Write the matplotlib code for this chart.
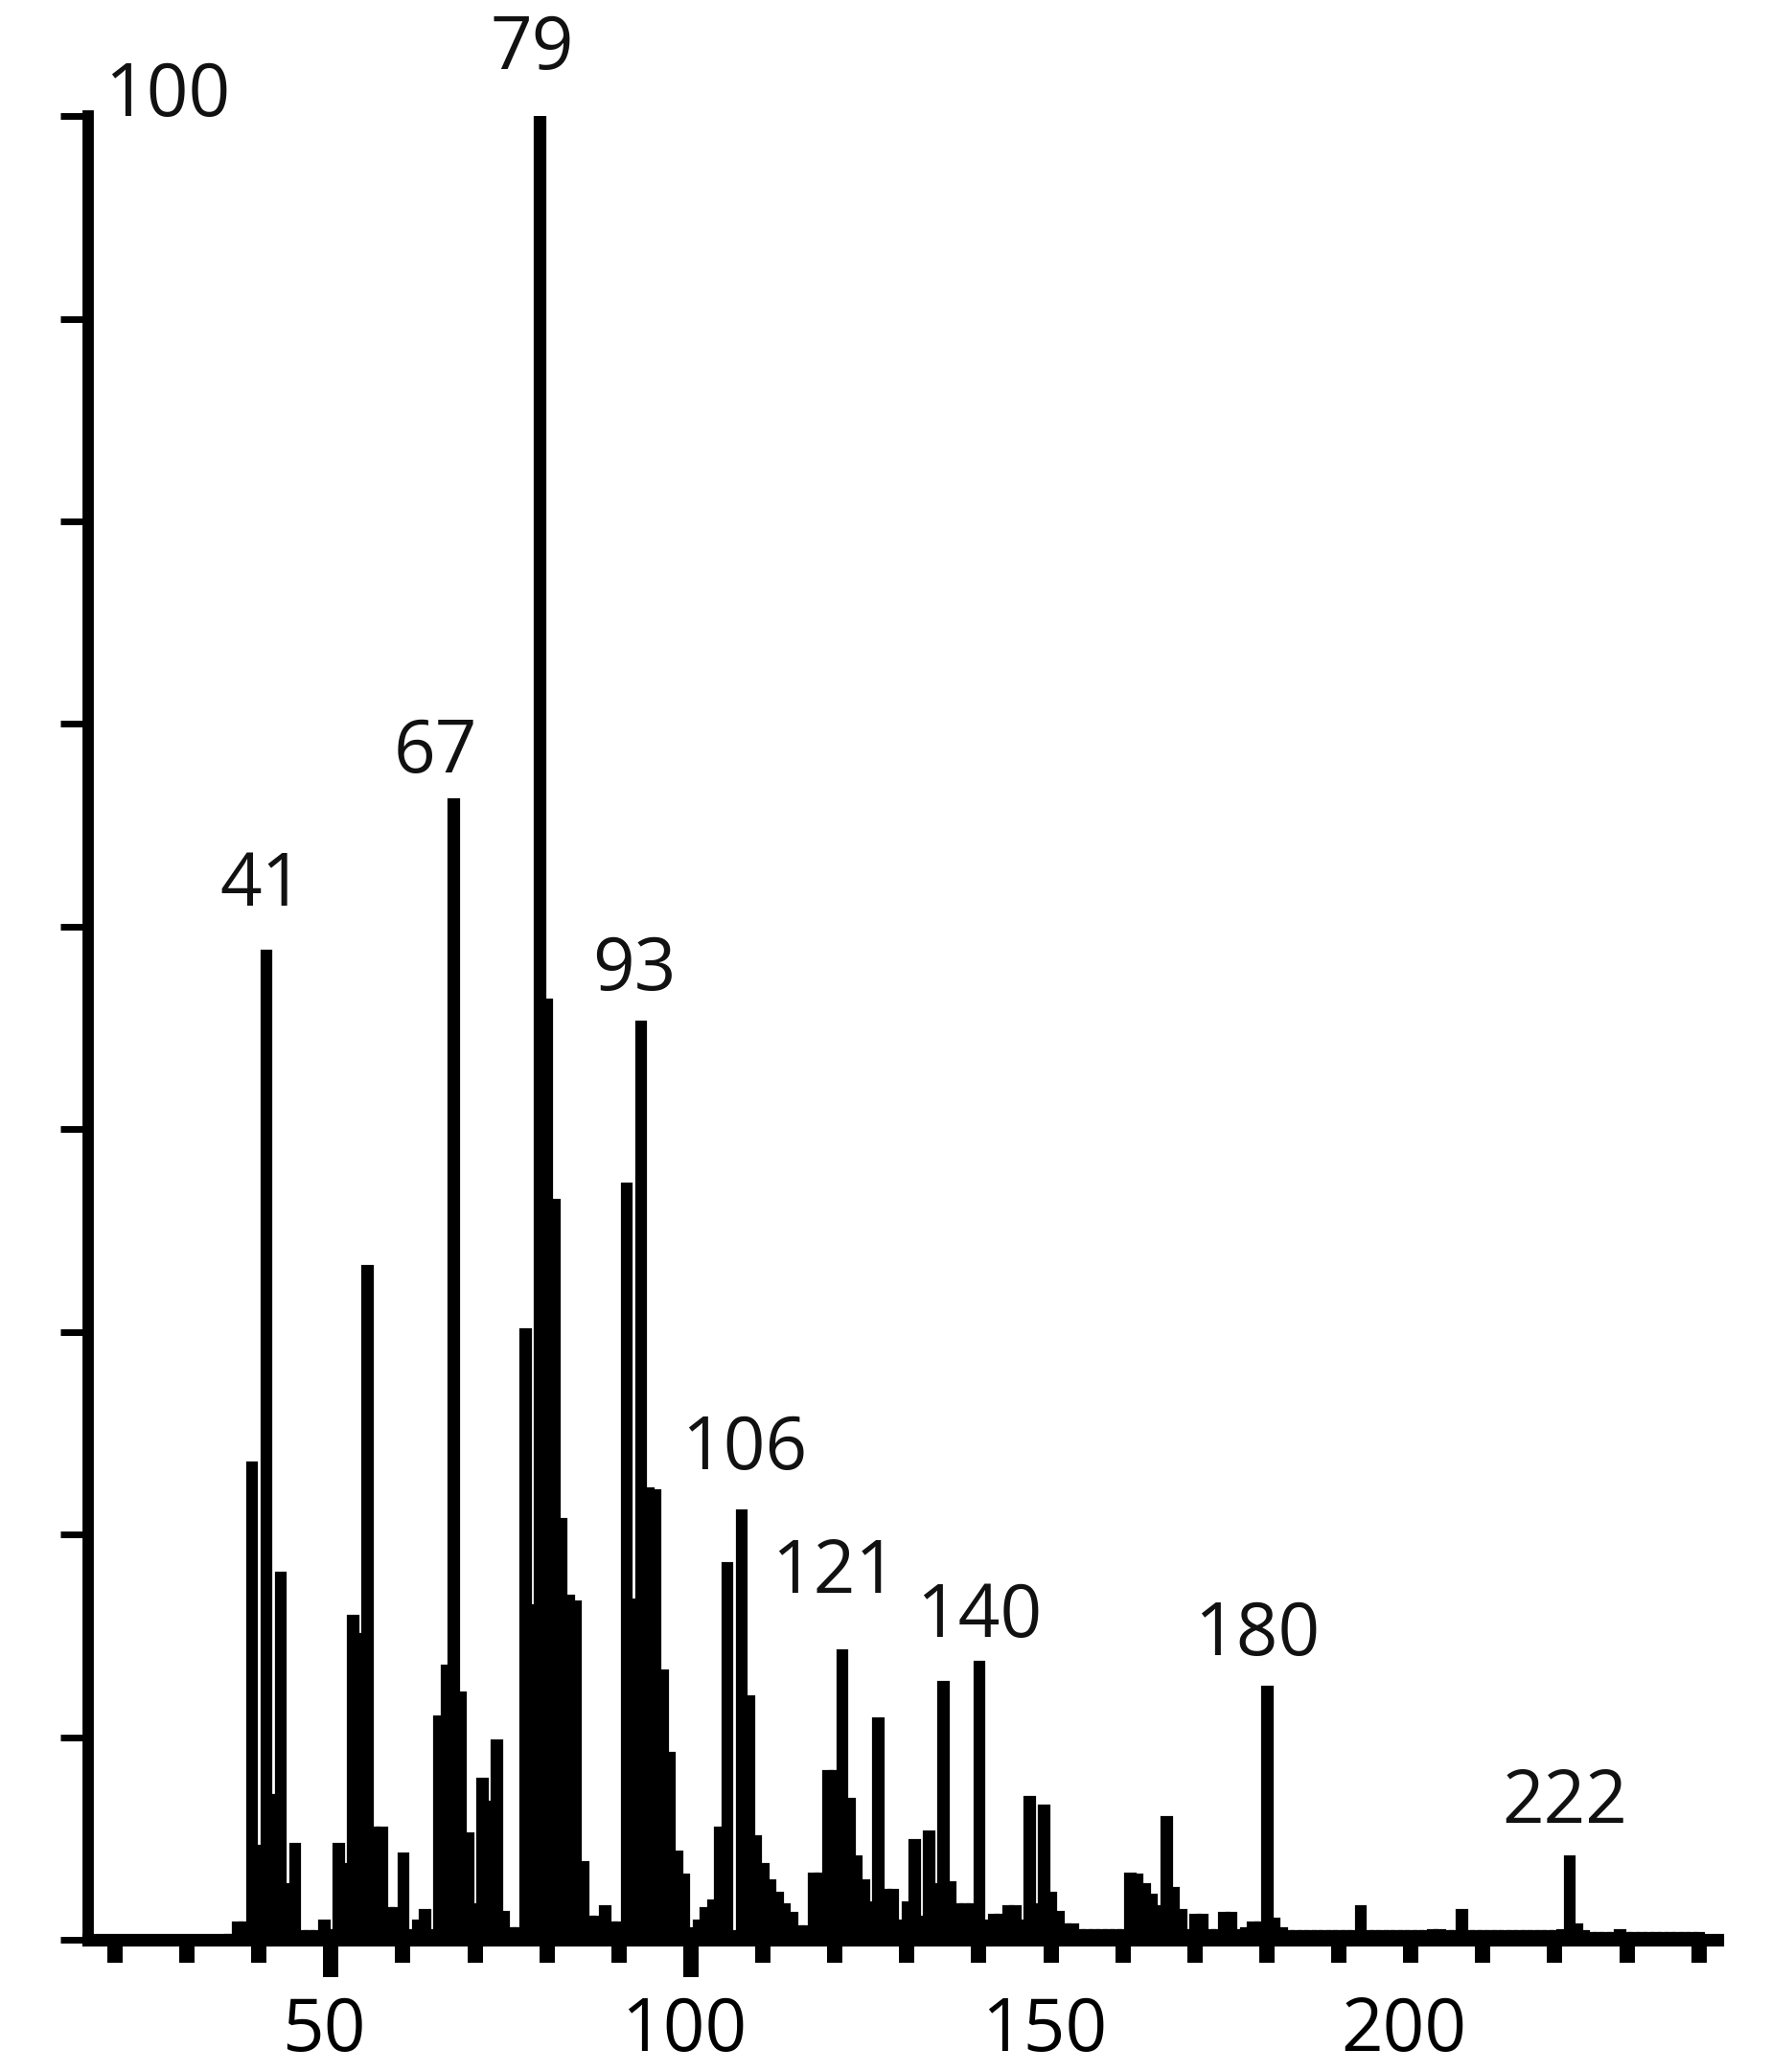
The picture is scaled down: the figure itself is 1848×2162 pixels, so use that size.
import matplotlib
matplotlib.use("Agg")
import matplotlib.pyplot as plt
from matplotlib.transforms import ScaledTranslation
import numpy as np

plt.rcParams['font.family'] = ['Open Sans', 'DejaVu Sans']

# m/z 35..240, relative intensity (%)
mz = list(range(35, 241))
intensity = [
    0.1, 0.2, 0.9, 0.9, 26.1,                                   # 35-39
    5.1, 54.2, 7.9, 20.1, 3.0, 5.2, 0.4, 0.4, 0.4, 1.0,         # 40-49
    0.5, 5.2, 4.1, 17.7, 16.7, 36.9, 6.1, 6.1, 1.7, 1.7,        # 50-59
    4.7, 0.5, 1.0, 1.6, 0.5, 12.2, 15.0, 62.5, 13.5, 5.8,       # 60-69
    1.9, 8.8, 7.5, 10.9, 1.5, 0.6, 0.6, 33.4, 18.3, 100.0,      # 70-79
    51.5, 40.5, 23.0, 18.8, 18.5, 4.2, 1.2, 1.2, 1.8, 0.9,      # 80-89
    0.9, 41.4, 18.6, 50.3, 24.7, 24.6, 14.7, 10.2, 4.8, 3.5,    # 90-99
    0.6, 1.0, 1.7, 2.1, 6.1, 20.6, 0.4, 23.5, 13.3, 5.6,        # 100-109
    4.1, 3.2, 2.5, 1.9, 1.4, 0.7, 0.7, 3.6, 3.6, 9.2,           # 110-119
    9.2, 15.8, 7.7, 4.5, 3.2, 2.0, 12.1, 2.7, 2.7, 1.0,         # 120-129
    2.0, 5.4, 1.2, 5.9, 3.0, 14.1, 3.1, 1.9, 1.9, 1.9,          # 130-139
    15.2, 1.0, 1.3, 1.3, 1.8, 1.8, 1.0, 7.8, 1.9, 7.3,          # 140-149
    2.5, 1.5, 0.8, 0.8, 0.5, 0.5, 0.5, 0.5, 0.5, 0.5,           # 150-159
    0.5, 3.6, 3.5, 3.0, 2.4, 1.8, 6.7, 2.8, 1.6, 0.5,           # 160-169
    1.3, 1.3, 0.5, 0.5, 1.4, 1.4, 0.5, 0.6, 0.9, 0.9,           # 170-179
    13.8, 1.1, 0.6, 0.4, 0.4, 0.4, 0.4, 0.4, 0.4, 0.4,          # 180-189
    0.4, 0.4, 0.4, 1.8, 0.4, 0.4, 0.4, 0.4, 0.4, 0.4,           # 190-199
    0.4, 0.4, 0.4, 0.5, 0.5, 0.4, 0.4, 1.6, 0.4, 0.4,           # 200-209
    0.4, 0.4, 0.4, 0.4, 0.4, 0.4, 0.4, 0.4, 0.4, 0.4,           # 210-219
    0.4, 0.5, 4.5, 0.8, 0.4, 0.3, 0.3, 0.3, 0.3, 0.5,           # 220-229
    0.3, 0.3, 0.3, 0.3, 0.3, 0.3, 0.3, 0.3, 0.3, 0.3, 0.3,      # 230-240
]

# peak labels and where their text sits (centre x, baseline y)
peak_labels = ['41', '67', '79', '93', '106', '121', '140', '180', '222']
label_x = [40.4, 64.5, 77.9, 92.2, 107.4, 119.9, 140.1, 178.6, 221.3]
label_y = [56.7, 64.0, 102.6, 52.1, 25.8, 19.0, 16.6, 15.6, 6.4]

x_ticks = list(range(20, 241, 10))
x_labelled = [50, 100, 150, 200]
x_long = [50, 100]

fig = plt.figure(figsize=(18.49, 21.62), dpi=100)
ax = fig.add_axes([0.0498, 0.0638, 0.9195, 0.8802])

ax.bar(mz, intensity, width=1.0, color='black', edgecolor='black', linewidth=3.75)

ax.set_xlim(16.3, 242.6)
ax.set_ylim(0, 100)

for s in ['top', 'right']:
    ax.spines[s].set_visible(False)
ax.spines['left'].set_linewidth(8.5)
ax.spines['bottom'].set_linewidth(9.5)

ax.set_yticks(np.linspace(0, 100, 10))
ax.set_yticklabels([])
ax.tick_params(axis='y', direction='out', length=21, width=5, color='black')

ax.set_xticks(x_ticks)
ax.set_xticklabels([str(t) if t in x_labelled else '' for t in x_ticks])
ax.tick_params(axis='x', direction='out', length=17, width=11.5, pad=24,
               labelsize=55, color='black')
shift = ScaledTranslation(-0.07, 0, fig.dpi_scale_trans)
for lab in ax.get_xticklabels():
    lab.set_transform(lab.get_transform() + shift)

sec = ax.secondary_xaxis('bottom')
sec.set_xticks(x_long, labels=['' for t in x_long])
sec.tick_params(length=28, width=11.5, color='black')
sec.spines['bottom'].set_visible(False)

for txt, x, y in zip(peak_labels, label_x, label_y):
    ax.text(x, y, txt, ha='center', va='baseline', fontsize=55, color='#111111')

ax.text(18.6, 100, '100', ha='left', va='baseline', fontsize=55, color='#111111')

fig.savefig('out.png', dpi=100, facecolor='white')
